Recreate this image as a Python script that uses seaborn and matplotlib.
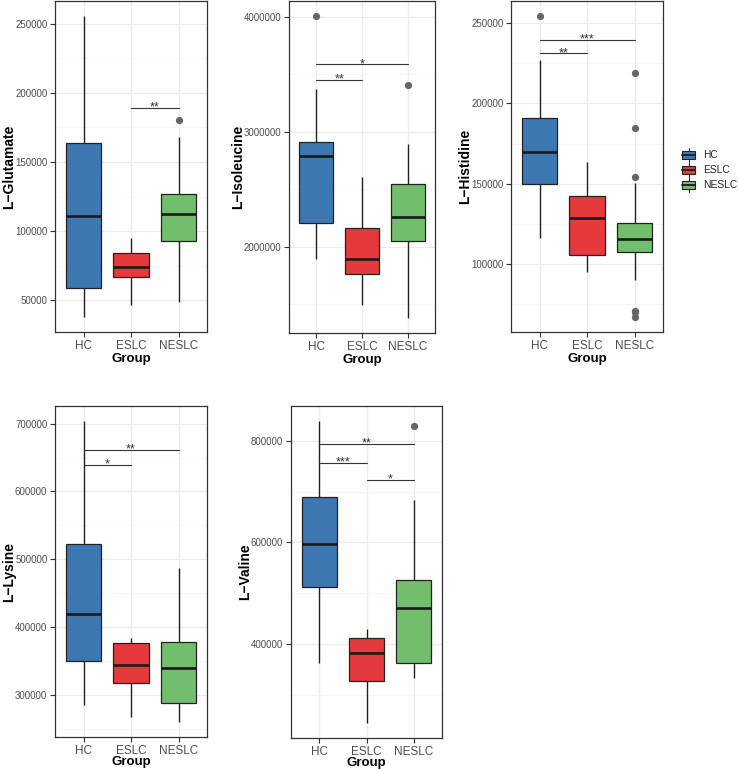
import matplotlib
matplotlib.use("Agg")
import numpy as np
import pandas as pd
import seaborn as sns
import matplotlib.pyplot as plt
from matplotlib.ticker import MultipleLocator, FuncFormatter
from matplotlib.legend_handler import HandlerBase
from matplotlib.patches import Rectangle, Patch
from matplotlib.lines import Line2D

# ---------------- data ----------------
groups = ["HC", "ESLC", "NESLC"]
group_colors = ["#3D77B2", "#E6393B", "#72BE6C"]

# five-number summaries per group: [lower whisker, Q1, median, Q3, upper whisker]
glutamate_stats = [[38000, 58900, 111300, 163460, 255500],
                   [46900, 66800, 73800, 84130, 95430],
                   [48800, 92800, 112260, 126900, 168300]]
glutamate_outliers = [[], [], [180300]]
glutamate_sig = [("ESLC", "NESLC", 189200, "**")]

isoleucine_stats = [[1890500, 2201700, 2789600, 2907800, 3374600],
                    [1492800, 1763700, 1893400, 2158500, 2605000],
                    [1380400, 2046100, 2256500, 2544700, 2893400]]
isoleucine_outliers = [[4005000], [], [3403500]]
isoleucine_sig = [("HC", "ESLC", 3452400, "**"), ("HC", "NESLC", 3585000, "*")]

histidine_stats = [[116490, 149920, 169730, 191190, 226700],
                   [95030, 105550, 128450, 142280, 163330],
                   [89870, 107820, 115660, 125570, 150740]]
histidine_outliers = [[254300], [], [218840, 184380, 154250, 70900, 70500, 67170]]
histidine_sig = [("HC", "ESLC", 231010, "**"), ("HC", "NESLC", 239680, "***")]

lysine_stats = [[284300, 349570, 419760, 522330, 703900],
                [267120, 317180, 343190, 375580, 383930],
                [259750, 288220, 339260, 377550, 486500]]
lysine_outliers = [[], [], []]
lysine_sig = [("HC", "ESLC", 639630, "*"), ("HC", "NESLC", 661720, "**")]

valine_stats = [[362620, 512130, 596720, 688520, 838690],
                [244590, 327870, 381640, 411800, 430170],
                [333770, 361970, 470160, 526560, 683930]]
valine_outliers = [[], [], [828850]]
valine_sig = [("HC", "NESLC", 793440, "**"), ("HC", "ESLC", 756070, "***"),
              ("ESLC", "NESLC", 723280, "*")]

panels = [
    ("L\u2212Glutamate", glutamate_stats, glutamate_outliers, glutamate_sig, 50000, (55, 1, 207, 332), 1.0),
    ("L\u2212Isoleucine", isoleucine_stats, isoleucine_outliers, isoleucine_sig, 1000000, (289, 1, 435, 333), 1.0),
    ("L\u2212Histidine", histidine_stats, histidine_outliers, histidine_sig, 50000, (511, 1, 663, 332), 1.0),
    ("L\u2212Lysine", lysine_stats, lysine_outliers, lysine_sig, 100000, (55, 406, 207, 737), -0.8),
    ("L\u2212Valine", valine_stats, valine_outliers, valine_sig, 200000, (291, 406, 442, 738), -0.8),
]


def sample_from_summary(stats, outliers):
    """Sample whose quartiles/whiskers equal the read summary (values repeated only)."""
    lo, q1, med, q3, hi = stats
    bot = sorted(v for v in outliers if v < lo)
    top = sorted(v for v in outliers if v > hi)
    m = max(len(bot), len(top)) + 1
    return (bot + [lo] * (m - len(bot)) + [q1] + [med] * m + [q3] * m
            + [hi] * (m - len(top)) + top)


class BoxKeyHandler(HandlerBase):
    def create_artists(self, legend, orig_handle, xdescent, ydescent,
                       width, height, fontsize, trans):
        x0, y0 = -xdescent, -ydescent
        fc = orig_handle.get_facecolor()
        ec = "#222222"
        cx = x0 + width / 2
        arts = [
            Line2D([cx, cx], [y0, y0 + 0.2 * height], color=ec, lw=0.8, transform=trans),
            Line2D([cx, cx], [y0 + 0.8 * height, y0 + height], color=ec, lw=0.8, transform=trans),
            Rectangle((x0, y0 + 0.2 * height), width, 0.6 * height, facecolor=fc,
                      edgecolor=ec, lw=0.8, transform=trans),
            Line2D([x0, x0 + width], [y0 + 0.5 * height] * 2, color=ec, lw=1.4, transform=trans),
        ]
        return arts


# ---------------- style ----------------
sns.set_theme(style="ticks")
plt.rcParams["font.family"] = ["Liberation Sans", "DejaVu Sans"]

W, H = 739, 769
fig = plt.figure(figsize=(W / 100, H / 100), dpi=100)
fig.patch.set_facecolor("white")

for label, stats, outliers, sig, step, (l, t, r, b), xpad in panels:
    ax = fig.add_axes([l / W, 1 - b / H, (r - l) / W, (b - t) / H])
    rows = []
    for g, st, out in zip(groups, stats, outliers):
        for v in sample_from_summary(st, out):
            rows.append((g, v))
    df = pd.DataFrame(rows, columns=["Group", "value"])
    sns.boxplot(data=df, x="Group", y="value", hue="Group", order=groups,
                hue_order=groups, palette=group_colors, width=0.75, saturation=1,
                linewidth=0.9, linecolor="#222222", showcaps=False, legend=False,
                medianprops=dict(color="#1A1A1A", linewidth=1.9),
                whiskerprops=dict(color="#222222", linewidth=1.0),
                flierprops=dict(marker="o", markerfacecolor="#666666",
                                markeredgecolor="#666666", markersize=4.2),
                ax=ax)
    ax.set_xlim(-0.6, 2.6)
    allv = df["value"].tolist() + [s[2] for s in sig]
    lo, hi = min(allv), max(allv)
    pad = 0.05 * (hi - lo)
    ax.set_ylim(lo - pad, hi + pad)

    ax.yaxis.set_major_locator(MultipleLocator(step))
    ax.yaxis.set_minor_locator(MultipleLocator(step / 2))
    ax.yaxis.set_major_formatter(FuncFormatter(lambda v, p: f"{v:.0f}"))
    ax.set_axisbelow(True)
    ax.grid(which="major", color="#EBEBEB", lw=0.9)
    ax.grid(which="minor", axis="y", color="#F3F3F3", lw=0.5)
    ax.tick_params(which="major", length=3.5, width=0.8, color="#333333",
                   labelcolor="#4D4D4D", pad=2)
    ax.tick_params(axis="y", which="major", labelsize=7)
    ax.tick_params(axis="x", which="major", labelsize=8.5)
    ax.tick_params(which="minor", length=0)
    for sp in ax.spines.values():
        sp.set_visible(True)
        sp.set_color("#333333")
        sp.set_linewidth(0.9)
    ax.set_xlabel("Group", fontsize=9.5, fontweight="bold", labelpad=xpad, color="black")
    ax.set_ylabel(label, fontsize=10, fontweight="bold", labelpad=-1, color="black")

    for a, bb, y, txt in sig:
        xa, xb = groups.index(a), groups.index(bb)
        ax.plot([xa, xb], [y, y], color="#333333", lw=0.8)
        ax.annotate(txt, xy=((xa + xb) / 2, y), xytext=(0, -2),
                    textcoords="offset points", ha="center", va="baseline",
                    fontsize=9, color="#333333")

handles = [Patch(facecolor=c, label=g) for g, c in zip(groups, group_colors)]
fig.legend(handles=handles, handler_map={Patch: BoxKeyHandler()},
           loc="center left", bbox_to_anchor=(682 / W, 1 - 170 / H),
           frameon=False, fontsize=7.4, handlelength=1.3, handleheight=1.7,
           labelspacing=0.1, handletextpad=0.8, borderaxespad=0, borderpad=0)

fig.savefig("out.png", dpi=100, facecolor="white")
